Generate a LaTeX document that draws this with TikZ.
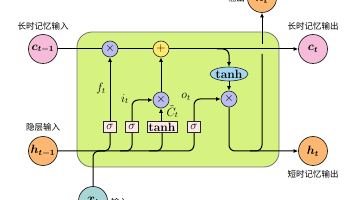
\documentclass[tikz,border=0pt]{standalone}
\usepackage{amsmath,bm}
\usepackage{fontspec}
\newfontfamily\cjk{Noto Sans CJK SC}
\usetikzlibrary{shapes.geometric,arrows.meta}
\definecolor{cellgreen}{RGB}{214,242,128}
\definecolor{oplav}{RGB}{187,187,240}
\definecolor{opyel}{RGB}{255,232,112}
\definecolor{cpink}{RGB}{246,187,216}
\definecolor{horange}{RGB}{252,184,112}
\definecolor{xteal}{RGB}{168,214,214}
\definecolor{tanhblue}{RGB}{160,214,240}
\definecolor{boxpink}{RGB}{253,232,232}
\begin{document}
\begin{tikzpicture}[x=1pt,y=-1pt,
  >={Latex[length=4.5pt,width=4pt]},
  cellbox/.style={draw=black!55, fill=cellgreen, rounded corners=15pt, line width=0.8pt},
  op/.style={circle, draw=black!85, line width=0.6pt, minimum size=16pt, inner sep=0pt, font=\large},
  ct/.style={circle, draw=black!85, line width=0.7pt, minimum size=29pt, inner sep=0pt, font=\large},
  gt/.style={rectangle, draw=black!85, fill=boxpink, line width=0.6pt, minimum width=13pt, minimum height=11.5pt, inner sep=1pt, font=\large},
  func/.style={ellipse, draw=black!85, fill=tanhblue, line width=0.6pt, minimum width=38pt, minimum height=14pt, inner sep=0pt, font=\large},
  lbl/.style={font=\cjk\fontsize{8.5}{10}\selectfont, inner sep=0pt},
  mlab/.style={inner sep=0pt, font=\large},
  wire/.style={line width=1pt, rounded corners=6pt},
]
\useasboundingbox (0,0) rectangle (356,200);
\clip (0,0) rectangle (356,200);

% cell
\node[cellbox, minimum width=202pt, minimum height=135pt] (cell) at (178,99.5) {};

% gates
\node[gt] (ibox1) at (110,127) {$\sigma$};
\node[gt] (ibox2) at (132,127) {$\sigma$};
\node[gt, minimum width=30pt] (ibox3) at (162,127) {\textbf{tanh}};
\node[gt] (ibox4) at (194,127) {$\sigma$};

% operators
\node[op, fill=oplav] (mux1) at (110,49) {$\times$};
\node[op, fill=opyel] (add1) at (161,49) {$+$};
\node[op, fill=oplav] (mux2) at (161,100) {$\times$};
\node[op, fill=oplav] (mux3) at (229,99) {$\times$};
\node[func] (func1) at (229,74) {\textbf{tanh}};

% external
\node[ct, fill=cpink] (c) at (43,49) {$\bm{c_{t-1}}$};
\node[ct, fill=horange] (h) at (43,151) {$\bm{h_{t-1}}$};
\node[ct, fill=xteal] (x) at (93,201) {$\bm{x_t}$};
\node[ct, fill=cpink] (c2) at (313,49) {$\bm{c_t}$};
\node[ct, fill=horange] (h2) at (313,151) {$\bm{h_t}$};
\node[ct, fill=horange] (x2) at (262,-2) {$\bm{h_t}$};

% labels
\node[lbl] (lc) at (43,26) {长时记忆输入};
\node[lbl] (lh) at (43,127) {隐层输入};
\node[lbl, anchor=west] (lx) at (111,202) {输入};
\node[lbl] (lc2) at (313,26) {长时记忆输出};
\node[lbl] (lh2) at (313,174) {短时记忆输出};
\node[lbl, anchor=east] (lx2) at (245,-2) {输出};

\node[mlab] (lf) at (101,89) {$f_t$};
\node[mlab] (li) at (125,99) {$i_t$};
\node[mlab] (lC) at (172.5,111.5) {$\tilde{C}_t$};
\node[mlab] (lo) at (186,97) {$o_t$};

% coordinates
\coordinate (j1) at (98,151);
\coordinate (j2) at (120,151);
\coordinate (j3) at (149,151);
\coordinate (jx) at (105,151);
\coordinate (b1) at (217,49);
\coordinate (j5) at (250,151);
\coordinate (g1) at (262,54);
\coordinate (g2) at (262,44);

% cell state
\draw[wire] (c) -- (mux1) -- (add1);
\draw[wire,->] (add1) -- (c2);

% inputs
\draw[wire] (h) -| (ibox4);
\draw[wire] (j1) -| (ibox1);
\draw[wire] (j2) -| (ibox2);
\draw[wire] (j3) -| (ibox3);
\draw[wire] (x) |- (jx);

% internal
\draw[wire,->] (ibox1) -- (mux1);
\draw[wire,->] (ibox2) |- (mux2);
\draw[wire,->] (ibox3.north -| mux2) -- (mux2);
\draw[wire,->] (ibox4) |- (mux3);
\draw[wire,->] (mux2) -- (add1);
\draw[wire,->] (b1) -| (func1);
\draw[wire,->] (func1) -- (mux3);

% outputs
\draw[wire,->] (mux3) |- (h2);
\draw[wire] (j5) -| (g1);
\draw[wire,->] (g2) -- (x2);
\end{tikzpicture}
\end{document}
